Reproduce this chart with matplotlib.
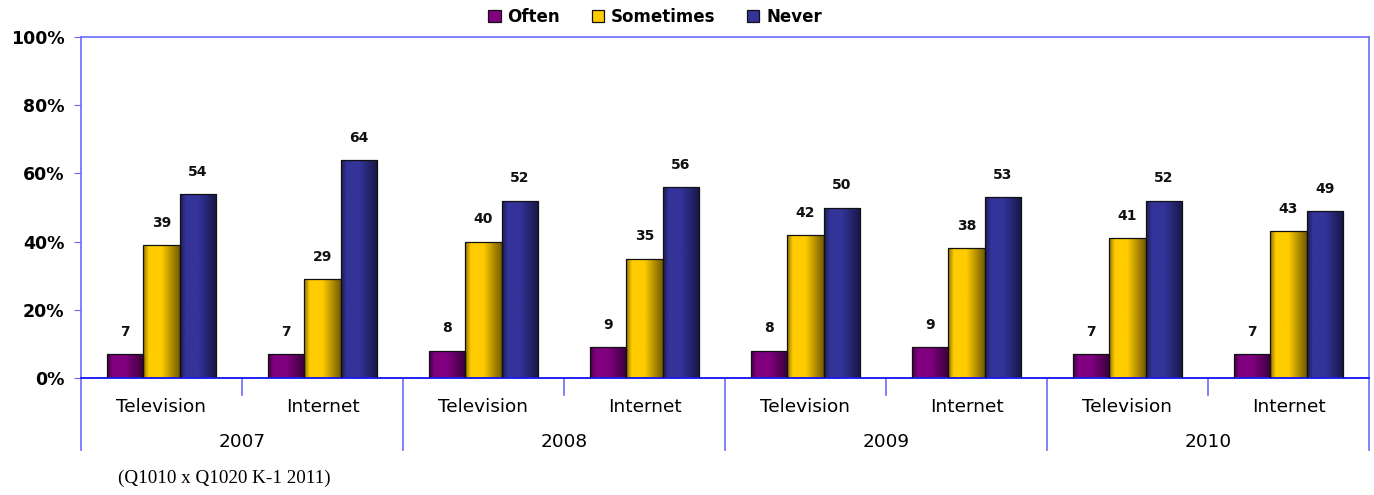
import matplotlib.pyplot as plt
import numpy as np
from matplotlib.colors import LinearSegmentedColormap, to_rgb
from matplotlib.patches import Patch
from matplotlib.transforms import blended_transform_factory

# -------------------------------------------------------------------
# Data
# -------------------------------------------------------------------
years = ["2007", "2008", "2009", "2010"]
media = ["Television", "Internet"]
series = ["Often", "Sometimes", "Never"]

often = [7, 7, 8, 9, 8, 9, 7, 7]
sometimes = [39, 29, 40, 35, 42, 38, 41, 43]
never = [54, 64, 52, 56, 50, 53, 52, 49]

colors = ["#800080", "#FFCC00", "#333399"]
axis_blue = "#6b6bff"

# -------------------------------------------------------------------
# Plotting
# -------------------------------------------------------------------
figure = plt.figure(figsize=(13.74, 4.95), dpi=100)
axis = figure.add_axes([81 / 1374, 1 - 378 / 495, 1288 / 1374, 341 / 495])

n = len(often)
x = np.arange(n)
width = 0.224
gradient = np.linspace(0, 1, 64).reshape(1, -1)

for i, (vals, c) in enumerate(zip([often, sometimes, never], colors)):
    rects = axis.bar(x + (i - 1) * width, vals, width, facecolor="none",
                     edgecolor="#111111", linewidth=0.9, zorder=3)
    r, g, b = to_rgb(c)
    cmap = LinearSegmentedColormap.from_list(
        "shade_%d" % i,
        [(0.0, (r * 0.55, g * 0.55, b * 0.55)),
         (0.15, (r, g, b)),
         (0.5, (r, g, b)),
         (1.0, (r * 0.45, g * 0.45, b * 0.45))])
    for rect, v in zip(rects, vals):
        x0 = rect.get_x()
        w = rect.get_width()
        im = axis.imshow(gradient, extent=[x0, x0 + w, 0, v], aspect="auto",
                         cmap=cmap, zorder=2, interpolation="bilinear")
        im.set_clip_path(rect)
        axis.annotate(str(v), (x0 + w / 2, v), xytext=(0, 16),
                      textcoords="offset points", ha="center", va="center",
                      fontsize=10, fontweight="bold", color="#111111")

axis.set_xlim(-0.5, n - 0.5)
axis.set_ylim(0, 100)
axis.set_yticks(np.arange(0, 101, 20))
axis.set_yticklabels(["%d%%" % t for t in range(0, 101, 20)],
                     fontsize=12.5, fontweight="bold")
axis.tick_params(axis="y", colors=axis_blue, labelcolor="black", length=5,
                 direction="out", pad=7)
axis.set_xticks([])

for side in ["left", "top", "right"]:
    axis.spines[side].set_color(axis_blue)
    axis.spines[side].set_linewidth(1.2)
axis.spines["bottom"].set_color("#2020ff")
axis.spines["bottom"].set_linewidth(1.4)

# Multi-level category axis
trans = blended_transform_factory(axis.transData, axis.transAxes)
for k in range(n + 1):
    bx = k - 0.5
    low = -0.211 if k % 2 == 0 else -0.05
    axis.plot([bx, bx], [0, low], transform=trans, color=axis_blue,
              linewidth=1.2, clip_on=False)
for k in range(n):
    axis.text(k, -0.085, media[k % 2], transform=trans, ha="center",
              va="center", fontsize=13.3)
for j, yr in enumerate(years):
    axis.text(2 * j + 0.5, -0.188, yr, transform=trans, ha="center",
              va="center", fontsize=13.3)

handles = [Patch(facecolor=c, edgecolor="#111111", linewidth=0.9) for c in colors]
figure.legend(handles, series, loc="center", bbox_to_anchor=(655 / 1374, 1 - 17 / 495),
              ncol=3, frameon=False, handlelength=0.75, handleheight=0.75,
              handletextpad=0.4, columnspacing=1.9, prop={"weight": "bold", "size": 12})

figure.text(118 / 1374, 1 - 478 / 495, "(Q1010 x Q1020 K-1 2011)",
            family="Liberation Serif", fontsize=13.8, va="center", ha="left")

figure.savefig("out.png", dpi=100)
